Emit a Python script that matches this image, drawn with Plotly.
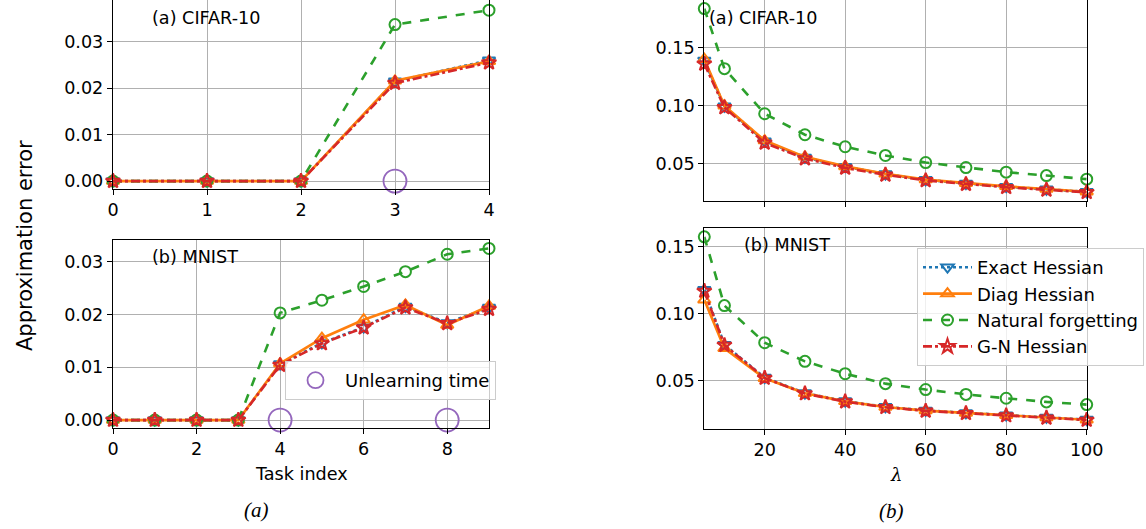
import plotly.graph_objects as go

# ---------------- data ----------------
task_cifar = [0, 1, 2, 3, 4]
cifar_exact = [0, 0, 0, 0.0215, 0.0260]
cifar_diag = [0, 0, 0, 0.0216, 0.0258]
cifar_natural = [0, 0, 0, 0.0337, 0.0368]
cifar_gn = [0, 0, 0, 0.0211, 0.0255]
cifar_unlearn_x = [3]
cifar_unlearn_y = [0]

task_mnist = [0, 1, 2, 3, 4, 5, 6, 7, 8, 9]
mnist_exact = [0, 0, 0, 0, 0.0106, 0.0146, 0.0176, 0.0215, 0.0184, 0.0213]
mnist_diag = [0, 0, 0, 0, 0.0107, 0.0155, 0.0190, 0.0218, 0.0180, 0.0216]
mnist_natural = [0, 0, 0, 0, 0.0203, 0.0227, 0.0253, 0.0281, 0.0314, 0.0325]
mnist_gn = [0, 0, 0, 0, 0.0104, 0.0145, 0.0175, 0.0213, 0.0183, 0.0210]
mnist_unlearn_x = [4, 8]
mnist_unlearn_y = [0, 0]

lam = [5, 10, 20, 30, 40, 50, 60, 70, 80, 90, 100]
lc_exact = [0.139, 0.0995, 0.0695, 0.0555, 0.0475, 0.0412, 0.0362, 0.0330, 0.0303, 0.0281, 0.0259]
lc_diag = [0.140, 0.1000, 0.0700, 0.0560, 0.0478, 0.0414, 0.0364, 0.0332, 0.0306, 0.0283, 0.0260]
lc_natural = [0.1836, 0.1319, 0.0931, 0.0750, 0.0647, 0.0572, 0.0511, 0.0468, 0.0428, 0.0399, 0.0368]
lc_gn = [0.136, 0.0985, 0.0680, 0.0545, 0.0465, 0.0405, 0.0357, 0.0325, 0.0298, 0.0276, 0.0255]

lm_exact = [0.1180, 0.0770, 0.0525, 0.0410, 0.0350, 0.0307, 0.0280, 0.0262, 0.0245, 0.0228, 0.0212]
lm_diag = [0.1105, 0.0743, 0.0520, 0.0408, 0.0348, 0.0306, 0.0279, 0.0261, 0.0244, 0.0227, 0.0211]
lm_natural = [0.1574, 0.1062, 0.0785, 0.0646, 0.0554, 0.0480, 0.0436, 0.0400, 0.0371, 0.0344, 0.0324]
lm_gn = [0.1170, 0.0767, 0.0522, 0.0406, 0.0346, 0.0304, 0.0277, 0.0259, 0.0242, 0.0225, 0.0209]

series_names = ["Exact Hessian", "Diag Hessian", "Natural forgetting", "G-N Hessian"]
colors = ["#1f77b4", "#ff7f0e", "#2ca02c", "#d62728"]
dashes = ["dot", "solid", "dash", "dashdot"]
symbols = ["triangle-down-open", "triangle-up-open", "circle-open", "star-open"]
purple = "#9467bd"

FONT = "DejaVu Sans"
FS = 17.6

fig = go.Figure()

panels = [
    ("x", "y", task_cifar, [cifar_exact, cifar_diag, cifar_natural, cifar_gn]),
    ("x2", "y2", task_mnist, [mnist_exact, mnist_diag, mnist_natural, mnist_gn]),
    ("x3", "y3", lam, [lc_exact, lc_diag, lc_natural, lc_gn]),
    ("x4", "y4", lam, [lm_exact, lm_diag, lm_natural, lm_gn]),
]

for pi, (xa, ya, xs, ys_list) in enumerate(panels):
    for si, ys in enumerate(ys_list):
        fig.add_trace(go.Scatter(
            x=xs, y=ys, xaxis=xa, yaxis=ya,
            mode="lines+markers",
            name=series_names[si],
            legend="legend",
            showlegend=(pi == 3),
            line=dict(color=colors[si], dash=dashes[si], width=2.6),
            marker=dict(symbol=symbols[si], size=11, color=colors[si],
                        line=dict(width=2, color=colors[si])),
            cliponaxis=False,
        ))

fig.add_trace(go.Scatter(
    x=cifar_unlearn_x, y=cifar_unlearn_y, xaxis="x", yaxis="y",
    mode="markers", name="Unlearning time", showlegend=False,
    marker=dict(symbol="circle-open", size=23, color=purple, line=dict(width=1.8, color=purple)),
    cliponaxis=False,
))
fig.add_trace(go.Scatter(
    x=mnist_unlearn_x, y=mnist_unlearn_y, xaxis="x2", yaxis="y2",
    mode="markers", name="Unlearning time", showlegend=True, legend="legend2",
    marker=dict(symbol="circle-open", size=23, color=purple, line=dict(width=1.8, color=purple)),
    cliponaxis=False,
))

W, H = 1146, 529
def px_x(p):
    return p / W
def px_y(p):
    return 1 - p / H

axis_common = dict(
    showline=True, linecolor="black", linewidth=1.3, mirror=True,
    ticks="outside", ticklen=5, tickwidth=1.2, tickcolor="black",
    showgrid=True, gridcolor="#b0b0b0", gridwidth=1,
    zeroline=False, automargin=False,
    tickfont=dict(family=FONT, size=FS, color="black"),
)

left_dom = [px_x(113), px_x(489)]
right_dom = [px_x(704.3), px_x(1086.7)]

fig.update_layout(
    template="none",
    width=W, height=H,
    margin=dict(l=0, r=0, t=0, b=0, pad=0, autoexpand=False),
    plot_bgcolor="white", paper_bgcolor="white",
    font=dict(family=FONT, size=FS, color="black"),
    xaxis=dict(axis_common, domain=left_dom, anchor="y", range=[0, 4],
               tickvals=[0, 1, 2, 3, 4]),
    yaxis=dict(axis_common, domain=[px_y(189), 1.0], anchor="x", range=[-0.0017, 0.039],
               tickvals=[0, 0.01, 0.02, 0.03], tickformat=".2f"),
    xaxis2=dict(axis_common, domain=left_dom, anchor="y2", range=[0, 9],
                tickvals=[0, 2, 4, 6, 8]),
    yaxis2=dict(axis_common, domain=[px_y(428), px_y(240)], anchor="x2", range=[-0.0015, 0.0341],
                tickvals=[0, 0.01, 0.02, 0.03], tickformat=".2f"),
    xaxis3=dict(axis_common, domain=right_dom, anchor="y3", range=[5, 100],
                tickvals=[20, 40, 60, 80, 100], showticklabels=False),
    yaxis3=dict(axis_common, domain=[px_y(201), 1.0], anchor="x3", range=[0.018, 0.191],
                tickvals=[0.05, 0.10, 0.15], tickformat=".2f"),
    xaxis4=dict(axis_common, domain=right_dom, anchor="y4", range=[5, 100],
                tickvals=[20, 40, 60, 80, 100]),
    yaxis4=dict(axis_common, domain=[px_y(429), px_y(228)], anchor="x4", range=[0.0142, 0.164],
                tickvals=[0.05, 0.10, 0.15], tickformat=".2f"),
    legend=dict(
        x=px_x(917), y=px_y(248), xanchor="left", yanchor="top",
        bgcolor="rgba(255,255,255,0.8)", bordercolor="#cccccc", borderwidth=1,
        font=dict(family=FONT, size=18, color="black"),
        tracegroupgap=0, itemwidth=49,
    ),
    legend2=dict(
        x=px_x(285), y=px_y(361), xanchor="left", yanchor="top",
        bgcolor="rgba(255,255,255,0.8)", bordercolor="#cccccc", borderwidth=1,
        font=dict(family=FONT, size=18, color="black"),
        itemwidth=49,
    ),
)

ann = [
    dict(text="(a) CIFAR-10", x=px_x(206), y=px_y(18)),
    dict(text="(b) MNIST", x=px_x(195), y=px_y(257)),
    dict(text="(a) CIFAR-10", x=px_x(763), y=px_y(18)),
    dict(text="(b) MNIST", x=px_x(787), y=px_y(245)),
    dict(text="Task index", x=px_x(301), y=px_y(474)),
]
for a in ann:
    fig.add_annotation(xref="paper", yref="paper", showarrow=False,
                       xanchor="center", yanchor="middle",
                       font=dict(family=FONT, size=FS, color="black"), **a)

fig.add_annotation(xref="paper", yref="paper", showarrow=False,
                   x=px_x(25), y=px_y(246), text="Approximation error", textangle=-90,
                   xanchor="center", yanchor="middle",
                   font=dict(family=FONT, size=21, color="black"))
fig.add_annotation(xref="paper", yref="paper", showarrow=False,
                   x=px_x(896), y=px_y(474), text="<i>λ</i>",
                   xanchor="center", yanchor="middle",
                   font=dict(family="DejaVu Serif", size=18, color="black"))
fig.add_annotation(xref="paper", yref="paper", showarrow=False,
                   x=px_x(256), y=px_y(510), text="<i>(a)</i>",
                   xanchor="center", yanchor="middle",
                   font=dict(family="Liberation Serif", size=21, color="black"))
fig.add_annotation(xref="paper", yref="paper", showarrow=False,
                   x=px_x(891), y=px_y(511), text="<i>(b)</i>",
                   xanchor="center", yanchor="middle",
                   font=dict(family="Liberation Serif", size=21, color="black"))

fig.write_html("out.html",
               config={"displayModeBar": False},
               post_script="document.body.style.margin='0';document.body.style.padding='0';document.body.style.overflow='hidden';")
